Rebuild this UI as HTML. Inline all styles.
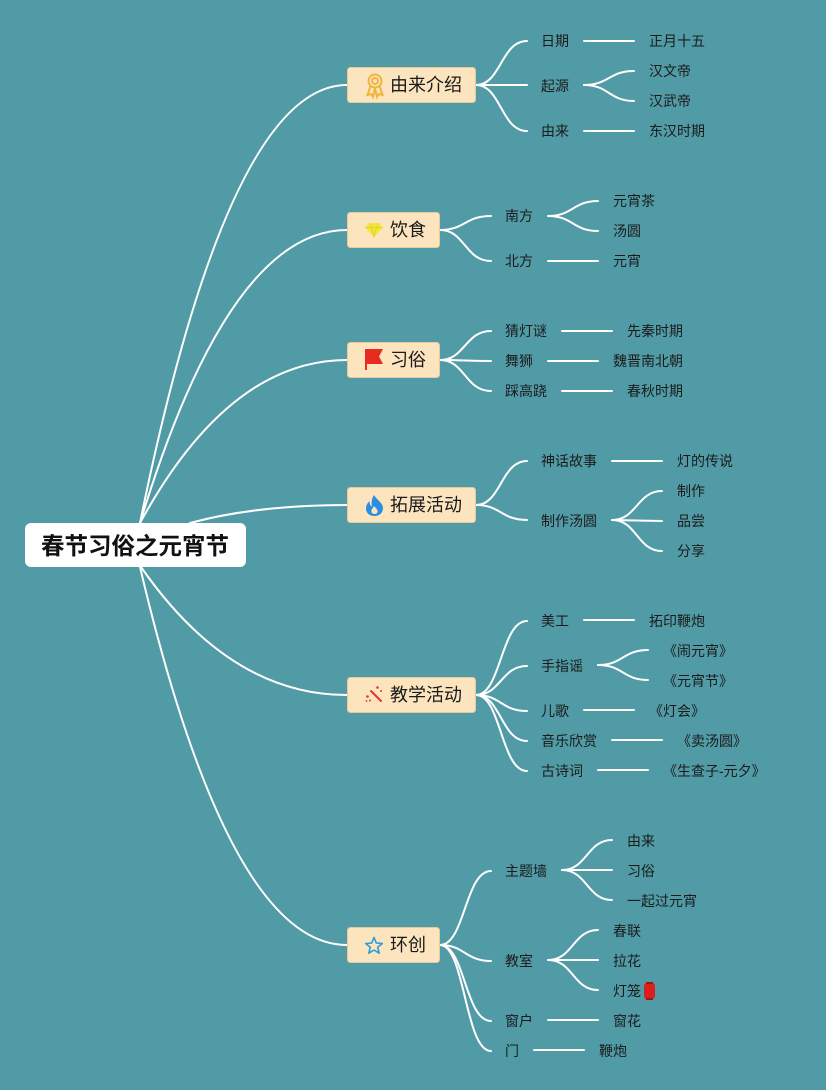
<!DOCTYPE html>
<html>
<head>
<meta charset="utf-8">
<style>
html,body{margin:0;padding:0;background:#519ba7;}
svg{display:block;}
text{font-family:"Liberation Sans","Noto Sans CJK SC",sans-serif;}
.t{font-size:14px;fill:#1b1b1b;}
.m{font-size:18px;fill:#1a1a1a;}
</style>
</head>
<body>
<svg width="826" height="1090" viewBox="0 0 826 1090" xmlns="http://www.w3.org/2000/svg">
<rect x="0" y="0" width="826" height="1090" fill="#519ba7"/>

<g fill="none" stroke="#ffffff" stroke-width="2" stroke-linecap="round">
  <!-- root to main -->
  <path d="M140 523 Q229 85 347 85"/>
  <path d="M140 523 Q229 230 347 230"/>
  <path d="M140 523 Q229 360 347 360"/>
  <path d="M190 523 Q257 505 347 505"/>
  <path d="M141 567 Q230 695 347 695"/>
  <path d="M140 567 Q229 945 347 945"/>

  <!-- 由来介绍 -->
  <path d="M476 85 C501 85 501 41 527 41"/>
  <path d="M476 85 L527 85"/>
  <path d="M476 85 C501 85 501 131 527 131"/>
  <path d="M584 41 L634 41"/>
  <path d="M584 85 C609 85 609 71 634 71"/>
  <path d="M584 85 C609 85 609 101 634 101"/>
  <path d="M584 131 L634 131"/>

  <!-- 饮食 -->
  <path d="M440 230 C465 230 465 216 491 216"/>
  <path d="M440 230 C465 230 465 261 491 261"/>
  <path d="M548 216 C573 216 573 201 598 201"/>
  <path d="M548 216 C573 216 573 231 598 231"/>
  <path d="M548 261 L598 261"/>

  <!-- 习俗 -->
  <path d="M440 360 C465 360 465 331 491 331"/>
  <path d="M440 360 C465 360 465 361 491 361"/>
  <path d="M440 360 C465 360 465 391 491 391"/>
  <path d="M562 331 L612 331"/>
  <path d="M548 361 L598 361"/>
  <path d="M562 391 L612 391"/>

  <!-- 拓展活动 -->
  <path d="M476 505 C501 505 501 461 527 461"/>
  <path d="M476 505 C501 505 501 520 527 520"/>
  <path d="M612 461 L662 461"/>
  <path d="M612 520 C637 520 637 491 662 491"/>
  <path d="M612 520 L662 521"/>
  <path d="M612 520 C637 520 637 551 662 551"/>

  <!-- 教学活动 -->
  <path d="M476 695 C501 695 501 621 527 621"/>
  <path d="M476 695 C501 695 501 666 527 666"/>
  <path d="M476 695 C501 695 501 711 527 711"/>
  <path d="M476 695 C501 695 501 741 527 741"/>
  <path d="M476 695 C501 695 501 771 527 771"/>
  <path d="M584 620 L634 620"/>
  <path d="M598 665 C623 665 623 650 648 650"/>
  <path d="M598 665 C623 665 623 680 648 680"/>
  <path d="M584 710 L634 710"/>
  <path d="M612 740 L662 740"/>
  <path d="M598 770 L648 770"/>

  <!-- 环创 -->
  <path d="M440 945 C465 945 465 871 491 871"/>
  <path d="M440 945 C465 945 465 961 491 961"/>
  <path d="M440 945 C465 945 465 1021 491 1021"/>
  <path d="M440 945 C465 945 465 1051 491 1051"/>
  <path d="M562 870 C587 870 587 840 612 840"/>
  <path d="M562 870 L612 870"/>
  <path d="M562 870 C587 870 587 900 612 900"/>
  <path d="M548 960 C573 960 573 930 598 930"/>
  <path d="M548 960 L598 960"/>
  <path d="M548 960 C573 960 573 990 598 990"/>
  <path d="M548 1020 L598 1020"/>
  <path d="M534 1050 L584 1050"/>
</g>

<!-- root -->
<rect x="25" y="523" width="221" height="44" rx="6" fill="#ffffff"/>
<text x="41" y="546" dominant-baseline="central" style="font-size:23.5px;font-weight:bold;fill:#111;">春节习俗之元宵节</text>

<!-- main boxes -->
<g fill="#fbe4be" stroke="#e6cc9c" stroke-width="1">
  <rect x="347.5" y="67.5" width="128" height="35" rx="3"/>
  <rect x="347.5" y="212.5" width="92" height="35" rx="3"/>
  <rect x="347.5" y="342.5" width="92" height="35" rx="3"/>
  <rect x="347.5" y="487.5" width="128" height="35" rx="3"/>
  <rect x="347.5" y="677.5" width="128" height="35" rx="3"/>
  <rect x="347.5" y="927.5" width="92" height="35" rx="3"/>
</g>
<text class="m" x="390" y="85" dominant-baseline="central">由来介绍</text>
<text class="m" x="390" y="230" dominant-baseline="central">饮食</text>
<text class="m" x="390" y="360" dominant-baseline="central">习俗</text>
<text class="m" x="390" y="505" dominant-baseline="central">拓展活动</text>
<text class="m" x="390" y="695" dominant-baseline="central">教学活动</text>
<text class="m" x="390" y="945" dominant-baseline="central">环创</text>

<!-- icons -->
<!-- medal -->
<g fill="none" stroke="#f0b53a" stroke-width="2">
  <circle cx="375" cy="81" r="6.5"/>
  <circle cx="375" cy="81" r="3"/>
  <path d="M370.5 86 L367.5 95 L371 94 L373 97 L375 88"/>
  <path d="M379.5 86 L382.5 95 L379 94 L377 97 L375 88"/>
</g>
<!-- diamond -->
<g>
  <polygon points="365,227.5 369.5,223 378.5,223 383,227.5 374,237" fill="#f2e63c"/>
  <path d="M365 227.5 L383 227.5 M369.5 223 L371.5 227.5 L374 237 L376.5 227.5 L378.5 223" fill="none" stroke="#e0cf2a" stroke-width="0.8"/>
</g>
<!-- flag -->
<g>
  <rect x="365" y="349" width="2" height="21" fill="#e82b1f"/>
  <polygon points="366,349 383,349 379,356.5 383,364 366,364" fill="#e82b1f"/>
</g>
<!-- flame -->
<path d="M374 495 C376 499 383 503 383 508 C383 513 379 516 374.5 516 C369.5 516 366 513 366 508.5 C366 505 368 502.5 369.5 501 C369.5 504 370.5 506 372 506.5 C371 502 372 498 374 495 Z" fill="#2b8fe0"/>
<path d="M374.5 514 C372 514 371 512 371.5 510 C372 508.5 373.5 507.5 374 506 C376 508 378 510 377.5 512 C377 513.5 376 514 374.5 514 Z" fill="#fbe4be"/>
<!-- wand -->
<g fill="#e0392b">
  <path d="M371 691 L381 701" stroke="#e0392b" stroke-width="2" stroke-linecap="round"/>
  <circle cx="367.5" cy="696.5" r="1.3"/>
  <circle cx="370" cy="700.5" r="1"/>
  <circle cx="377.5" cy="687.5" r="1.3"/>
  <circle cx="381" cy="691" r="1"/>
  <circle cx="366.5" cy="701" r="0.9"/>
</g>
<!-- star -->
<polygon points="374,937.5 376.3,943 382.3,943.5 377.7,947.3 379.2,953.2 374,950 368.8,953.2 370.3,947.3 365.7,943.5 371.7,943" fill="none" stroke="#2a9ed8" stroke-width="1.6" stroke-linejoin="round"/>
<!-- lantern -->
<rect x="644" y="983" width="11" height="16" rx="3" fill="#d8201c"/>
<rect x="646" y="982" width="7" height="2" fill="#a51510"/>
<rect x="646" y="998" width="7" height="2" fill="#a51510"/>

<!-- texts -->
<g class="t">
<text class="t" x="541" y="41" dominant-baseline="central">日期</text>
<text class="t" x="649" y="41" dominant-baseline="central">正月十五</text>
<text class="t" x="541" y="86" dominant-baseline="central">起源</text>
<text class="t" x="649" y="71" dominant-baseline="central">汉文帝</text>
<text class="t" x="649" y="101" dominant-baseline="central">汉武帝</text>
<text class="t" x="541" y="131" dominant-baseline="central">由来</text>
<text class="t" x="649" y="131" dominant-baseline="central">东汉时期</text>

<text class="t" x="505" y="216" dominant-baseline="central">南方</text>
<text class="t" x="613" y="201" dominant-baseline="central">元宵茶</text>
<text class="t" x="613" y="231" dominant-baseline="central">汤圆</text>
<text class="t" x="505" y="261" dominant-baseline="central">北方</text>
<text class="t" x="613" y="261" dominant-baseline="central">元宵</text>

<text class="t" x="505" y="331" dominant-baseline="central">猜灯谜</text>
<text class="t" x="627" y="331" dominant-baseline="central">先秦时期</text>
<text class="t" x="505" y="361" dominant-baseline="central">舞狮</text>
<text class="t" x="613" y="361" dominant-baseline="central">魏晋南北朝</text>
<text class="t" x="505" y="391" dominant-baseline="central">踩高跷</text>
<text class="t" x="627" y="391" dominant-baseline="central">春秋时期</text>

<text class="t" x="541" y="461" dominant-baseline="central">神话故事</text>
<text class="t" x="677" y="461" dominant-baseline="central">灯的传说</text>
<text class="t" x="541" y="521" dominant-baseline="central">制作汤圆</text>
<text class="t" x="677" y="491" dominant-baseline="central">制作</text>
<text class="t" x="677" y="521" dominant-baseline="central">品尝</text>
<text class="t" x="677" y="551" dominant-baseline="central">分享</text>

<text class="t" x="541" y="621" dominant-baseline="central">美工</text>
<text class="t" x="649" y="621" dominant-baseline="central">拓印鞭炮</text>
<text class="t" x="541" y="666" dominant-baseline="central">手指谣</text>
<text class="t" x="663" y="651" dominant-baseline="central">《闹元宵》</text>
<text class="t" x="663" y="681" dominant-baseline="central">《元宵节》</text>
<text class="t" x="541" y="711" dominant-baseline="central">儿歌</text>
<text class="t" x="649" y="711" dominant-baseline="central">《灯会》</text>
<text class="t" x="541" y="741" dominant-baseline="central">音乐欣赏</text>
<text class="t" x="677" y="741" dominant-baseline="central">《卖汤圆》</text>
<text class="t" x="541" y="771" dominant-baseline="central">古诗词</text>
<text class="t" x="663" y="771" dominant-baseline="central">《生查子-元夕》</text>

<text class="t" x="505" y="871" dominant-baseline="central">主题墙</text>
<text class="t" x="627" y="841" dominant-baseline="central">由来</text>
<text class="t" x="627" y="871" dominant-baseline="central">习俗</text>
<text class="t" x="627" y="901" dominant-baseline="central">一起过元宵</text>
<text class="t" x="505" y="961" dominant-baseline="central">教室</text>
<text class="t" x="613" y="931" dominant-baseline="central">春联</text>
<text class="t" x="613" y="961" dominant-baseline="central">拉花</text>
<text class="t" x="613" y="991" dominant-baseline="central">灯笼</text>
<text class="t" x="505" y="1021" dominant-baseline="central">窗户</text>
<text class="t" x="613" y="1021" dominant-baseline="central">窗花</text>
<text class="t" x="505" y="1051" dominant-baseline="central">门</text>
<text class="t" x="599" y="1051" dominant-baseline="central">鞭炮</text>
</g>
</svg>
</body>
</html>
